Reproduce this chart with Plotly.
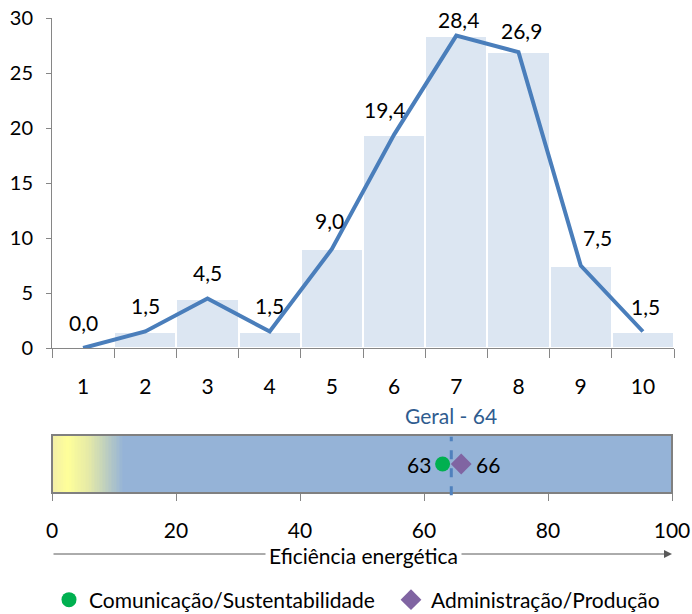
import numpy as np
import plotly.graph_objects as go

# ---------------- data ----------------
categories = ["1", "2", "3", "4", "5", "6", "7", "8", "9", "10"]
percent = [0.0, 1.5, 4.5, 1.5, 9.0, 19.4, 28.4, 26.9, 7.5, 1.5]
y_ticks = [0, 5, 10, 15, 20, 25, 30]

scale_ticks = [0, 20, 40, 60, 80, 100]
geral_value = 64.4
group_names = ["Comunicação/Sustentabilidade", "Administração/Produção"]
group_values = [63, 66]
axis_title = "Eficiência energética"

# ---------------- styles ----------------
FONT = "Lato"
FS = 21
label_shift_x = [0, 0, 0, 0, -2, -10, 2, 3, 17, 3]
label_shift_y = [26, 26, 26, 26, 29, 25, 16, 22, 28, 25]
group_colors = ["#00B050", "#8064A2"]
group_symbols = ["circle", "diamond"]
group_text_pos = ["left", "right"]

W, H = 692, 614
def px_x(p):
    return p / W
def px_y(p):
    return 1 - p / H

fig = go.Figure()

# histogram bars
fig.add_trace(go.Bar(
    x=categories, y=percent, marker=dict(color="#DCE6F2", line=dict(color="white", width=2)),
    width=1.0, showlegend=False, hoverinfo="skip", xaxis="x", yaxis="y"))

# line
fig.add_trace(go.Scatter(
    x=categories, y=percent, mode="lines", line=dict(color="#4A7EBB", width=4),
    showlegend=False, cliponaxis=False, xaxis="x", yaxis="y"))

# data labels (category axis -> use category index)
annotations = []
for i, v in enumerate(percent):
    annotations.append(dict(
        x=i, y=v, xref="x", yref="y", text=f"{v:.1f}".replace(".", ","),
        showarrow=False, xshift=label_shift_x[i], yshift=label_shift_y[i],
        font=dict(family=FONT, size=FS, color="black")))

# gradient band (heatmap) for bottom panel
edges = np.linspace(scale_ticks[0], scale_ticks[-1], 401)
centers = (edges[:-1] + edges[1:]) / 2
fig.add_trace(go.Heatmap(
    x=edges, y=[0, 1], z=[centers.tolist()], zmin=0, zmax=100,
    colorscale=[[0, "#F2EEA8"], [0.025, "#FFFF99"], [0.06, "#E4E9A8"],
                [0.115, "#95B3D7"], [1, "#95B3D7"]],
    showscale=False, hoverinfo="skip", xaxis="x2", yaxis="y2"))

# group markers
for name, val, col, sym, pos in zip(group_names, group_values, group_colors,
                                    group_symbols, group_text_pos):
    fig.add_trace(go.Scatter(
        x=[val], y=[0.5], mode="markers", name=name,
        marker=dict(color=col, symbol=sym, size=15 if sym == "circle" else 16),
        cliponaxis=False, xaxis="x2", yaxis="y2"))
    annotations.append(dict(
        x=val, y=0.5, xref="x2", yref="y2", text=str(val), showarrow=False,
        xanchor="right" if pos == "left" else "left", yanchor="middle",
        xshift=-10 if pos == "left" else 13,
        font=dict(family=FONT, size=FS, color="black")))

# geral label
annotations.append(dict(
    x=geral_value, y=px_y(415), xref="x2", yref="paper", yanchor="middle",
    text=f"Geral - {round(geral_value)}", showarrow=False,
    font=dict(family=FONT, size=FS, color="#2F5C8F")))

# axis arrow + title
annotations.append(dict(
    x=100, y=px_y(554), xref="x2", yref="paper", ax=0, ay=0,
    axref="x2", ayref="pixel", text="", showarrow=True, arrowhead=2,
    arrowsize=1.6, arrowwidth=1, arrowcolor="#595959"))
annotations.append(dict(
    x=50.2, y=px_y(555), xref="x2", yref="paper", yanchor="middle", text=axis_title,
    showarrow=False, bgcolor="white", borderpad=3,
    font=dict(family=FONT, size=FS, color="black")))

shapes = [
    dict(type="rect", xref="x2 domain", yref="y2 domain", x0=0, x1=1, y0=0, y1=1,
         line=dict(color="#808080", width=2), layer="above"),
    dict(type="line", xref="x2", yref="y2 domain", x0=geral_value, x1=geral_value,
         y0=-0.04, y1=0.97, line=dict(color="#4F81BD", width=3, dash="dash"),
         layer="above"),
]

fig.update_layout(
    width=W, height=H, margin=dict(l=0, r=0, t=0, b=0, autoexpand=False),
    paper_bgcolor="white", plot_bgcolor="white",
    font=dict(family=FONT, size=FS, color="black"),
    bargap=0,
    xaxis=dict(domain=[px_x(52), px_x(674)], type="category", tickson="boundaries",
               ticks="outside", ticklen=9, tickcolor="#868686", showline=True,
               linecolor="#868686", linewidth=1, showgrid=False, zeroline=False,
               ticklabelstandoff=20, anchor="y", automargin=False,
               ticklabeloverflow="allow",
               tickfont=dict(family=FONT, size=FS, color="black")),
    yaxis=dict(domain=[px_y(348), px_y(18)], range=[0, 30], tickvals=y_ticks,
               ticks="outside", ticklen=5, tickcolor="#868686", showline=True,
               linecolor="#868686", linewidth=1, showgrid=False, zeroline=False,
               ticklabelstandoff=9, anchor="x", automargin=False,
               ticklabeloverflow="allow",
               tickfont=dict(family=FONT, size=FS - 1, color="black")),
    xaxis2=dict(domain=[px_x(52), px_x(672)], range=[0, 100], tickvals=scale_ticks,
                ticks="outside", ticklen=7, tickcolor="#868686", showline=False,
                showgrid=False, zeroline=False, ticklabelstandoff=12, anchor="y2",
                automargin=False, ticklabeloverflow="allow",
                tickfont=dict(family=FONT, size=FS, color="black")),
    yaxis2=dict(domain=[px_y(493), px_y(435)], range=[0, 1], visible=False,
                anchor="x2"),
    legend=dict(orientation="h", x=px_x(49), y=px_y(600), xanchor="left",
                yanchor="middle", font=dict(family=FONT, size=FS, color="black"),
                entrywidth=297, bgcolor="rgba(0,0,0,0)"),
    annotations=annotations,
    shapes=shapes,
)

fig.write_html(
    "out.html",
    config={"displayModeBar": False},
    post_script="document.body.style.margin='0px';document.body.style.overflow='hidden';")
